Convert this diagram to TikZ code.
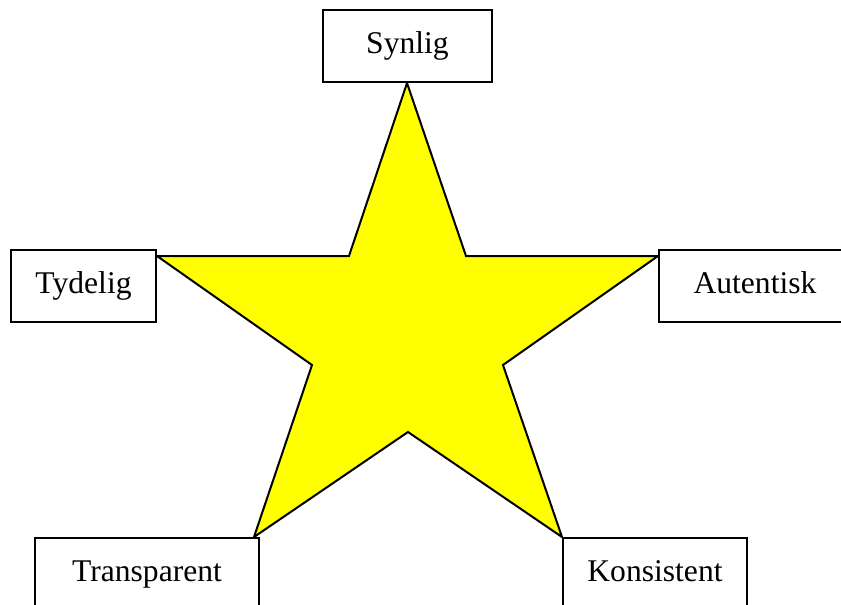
\documentclass[tikz,border=0pt]{standalone}
\usepackage{fontspec}
\setmainfont{Liberation Serif}
\definecolor{staryellow}{RGB}{255,255,0}
\begin{document}
\begin{tikzpicture}[x=1pt,y=-1pt,
  labelbox/.style={draw=black,line width=2pt,fill=white,rectangle,inner sep=0pt,
    font=\fontsize{31.6}{38}\selectfont,text height=22pt,text depth=7pt},
  starshape/.style={draw=black,line width=2pt,fill=staryellow,line join=miter}]
\useasboundingbox (0,0) rectangle (841,605);
\begin{scope}
\clip (0,0) rectangle (841,605);
% star
\coordinate (t) at (407,83);
\coordinate (ri) at (466,256);
\coordinate (r) at (658,256);
\coordinate (rl) at (503,365);
\coordinate (br) at (562,537);
\coordinate (bi) at (408,432);
\coordinate (bl) at (254,537);
\coordinate (ll) at (312,365);
\coordinate (l) at (157,256);
\coordinate (li) at (349,256);
\draw[starshape] (t) -- (ri) -- (r) -- (rl) -- (br) -- (bi) -- (bl) -- (ll) -- (l) -- (li) -- cycle;
% boxes
\node[labelbox,minimum width=169pt,minimum height=72pt] (syn) at (407.5,45.5) {Synlig};
\node[labelbox,minimum width=145pt,minimum height=72pt] (tyd) at (83.5,285.5) {Tydelig};
\node[labelbox,minimum width=192pt,minimum height=72pt] (aut) at (755,285.5) {Autentisk};
\node[labelbox,minimum width=224pt,minimum height=72pt] (tra) at (147,574) {Transparent};
\node[labelbox,minimum width=184pt,minimum height=72pt] (kon) at (655,574) {Konsistent};
\end{scope}
\end{tikzpicture}
\end{document}
